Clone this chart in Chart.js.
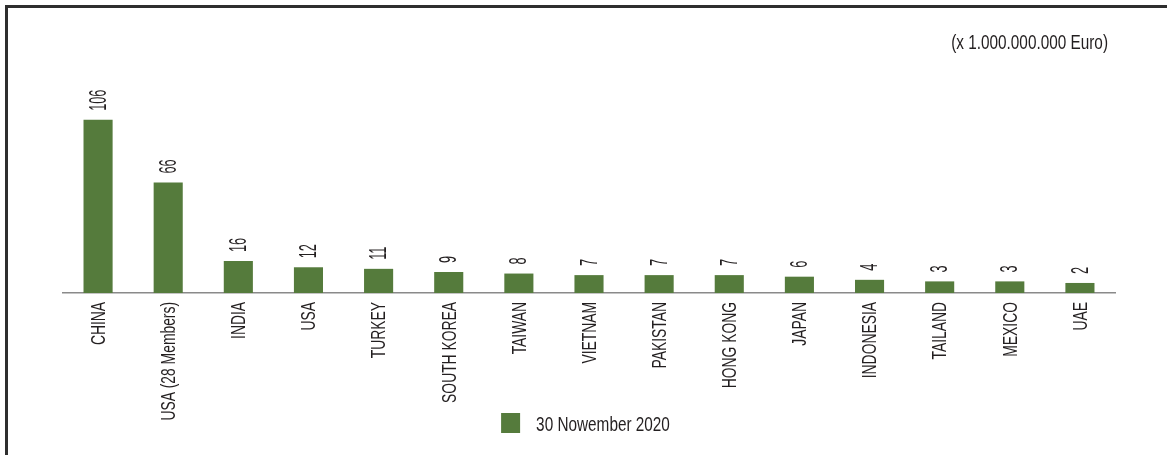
<!DOCTYPE html>
<html>
<head>
<meta charset="utf-8">
<script src="https://cdn.jsdelivr.net/npm/chart.js@4/dist/chart.umd.min.js"></script>
<style>
  html, body { margin: 0; padding: 0; background: #fff; }
  .frame {
    position: absolute; left: 5px; top: 5px;
    width: 1162px; height: 450px;
    border-left: 3px solid #2e2e2e; border-top: 3px solid #2e2e2e;
  }
  .frame canvas { display: block; }
</style>
</head>
<body>
<div class="frame"><canvas id="chart" width="1159" height="447"></canvas></div>
<script>
// Dữ liệu biểu đồ
const categories = ['CHINA', 'USA (28 Members)', 'INDIA', 'USA', 'TURKEY', 'SOUTH KOREA', 'TAIWAN',
  'VIETNAM', 'PAKISTAN', 'HONG KONG', 'JAPAN', 'INDONESIA', 'TAILAND', 'MEXICO', 'UAE'];
const values = [106, 66, 16, 12, 11, 9, 8, 7, 7, 7, 6, 4, 3, 3, 2];
const seriesName = '30 Nowember 2020';
const unitNote = '(x 1.000.000.000 Euro)';
const axisFloor = -4.4;   // trục bắt đầu hơi dưới 0 như hình gốc
const axisTop = 139;

const GREEN = '#557b3c';
const TEXT = '#231f20';
const FONT = "'Liberation Sans', Arial, sans-serif";

// Vẽ chữ "condensed" bằng cách co theo chiều ngang
function narrowText(ctx, text, sx, align) {
  ctx.scale(sx, 1);
  ctx.textAlign = align;
  ctx.fillText(text, 0, 0);
}

// Nhãn giá trị, nhãn trục x, tiêu đề đơn vị và chú thích
const textLayer = {
  id: 'textLayer',
  afterDraw(chart) {
    const ctx = chart.ctx;
    const area = chart.chartArea;
    const xScale = chart.scales.x;
    const meta = chart.getDatasetMeta(0);
    const ds = chart.data.datasets[0];
    ctx.save();
    ctx.fillStyle = TEXT;
    ctx.textBaseline = 'middle';

    // giá trị trên cột
    ctx.font = '24px ' + FONT;
    meta.data.forEach((bar, i) => {
      ctx.save();
      ctx.translate(bar.x + 1, bar.y - 9);
      ctx.rotate(-Math.PI / 2);
      narrowText(ctx, String(values[i]), 0.53, 'left');
      ctx.restore();
    });

    // nhãn danh mục
    ctx.font = '21px ' + FONT;
    categories.forEach((label, i) => {
      ctx.save();
      ctx.translate(xScale.getPixelForTick(i) + 1, area.bottom + 9);
      ctx.rotate(-Math.PI / 2);
      narrowText(ctx, label, 0.66, 'right');
      ctx.restore();
    });

    // đơn vị
    ctx.save();
    ctx.translate(area.right - 7, 35);
    narrowText(ctx, unitNote, 0.73, 'right');
    ctx.restore();

    // chú thích
    const w = ctx.measureText(seriesName).width * 0.73;
    const total = 19 + 16 + w;
    const lx = chart.width / 2 - 2 - total / 2;
    const ly = 415;
    ctx.fillStyle = ds.backgroundColor;
    ctx.fillRect(lx, ly - 10, 19, 20);
    ctx.fillStyle = TEXT;
    ctx.save();
    ctx.translate(lx + 35, ly + 2);
    narrowText(ctx, seriesName, 0.73, 'left');
    ctx.restore();

    ctx.restore();
  }
};

new Chart(document.getElementById('chart'), {
  type: 'bar',
  data: {
    labels: categories,
    datasets: [{
      label: seriesName,
      data: values,
      base: axisFloor,
      backgroundColor: GREEN,
      borderWidth: 0,
      categoryPercentage: 1,
      barPercentage: 0.415
    }]
  },
  options: {
    responsive: false,
    animation: false,
    layout: { padding: { left: 55, right: 52, top: 60, bottom: 162 } },
    scales: {
      x: {
        grid: { display: false, drawTicks: false },
        border: { display: true, color: '#8a8a8a', width: 1.5 },
        ticks: { display: false }
      },
      y: {
        display: false,
        min: axisFloor,
        max: axisTop
      }
    },
    plugins: {
      legend: { display: false },
      title: { display: false },
      tooltip: { enabled: false }
    }
  },
  plugins: [textLayer]
});
</script>
</body>
</html>
